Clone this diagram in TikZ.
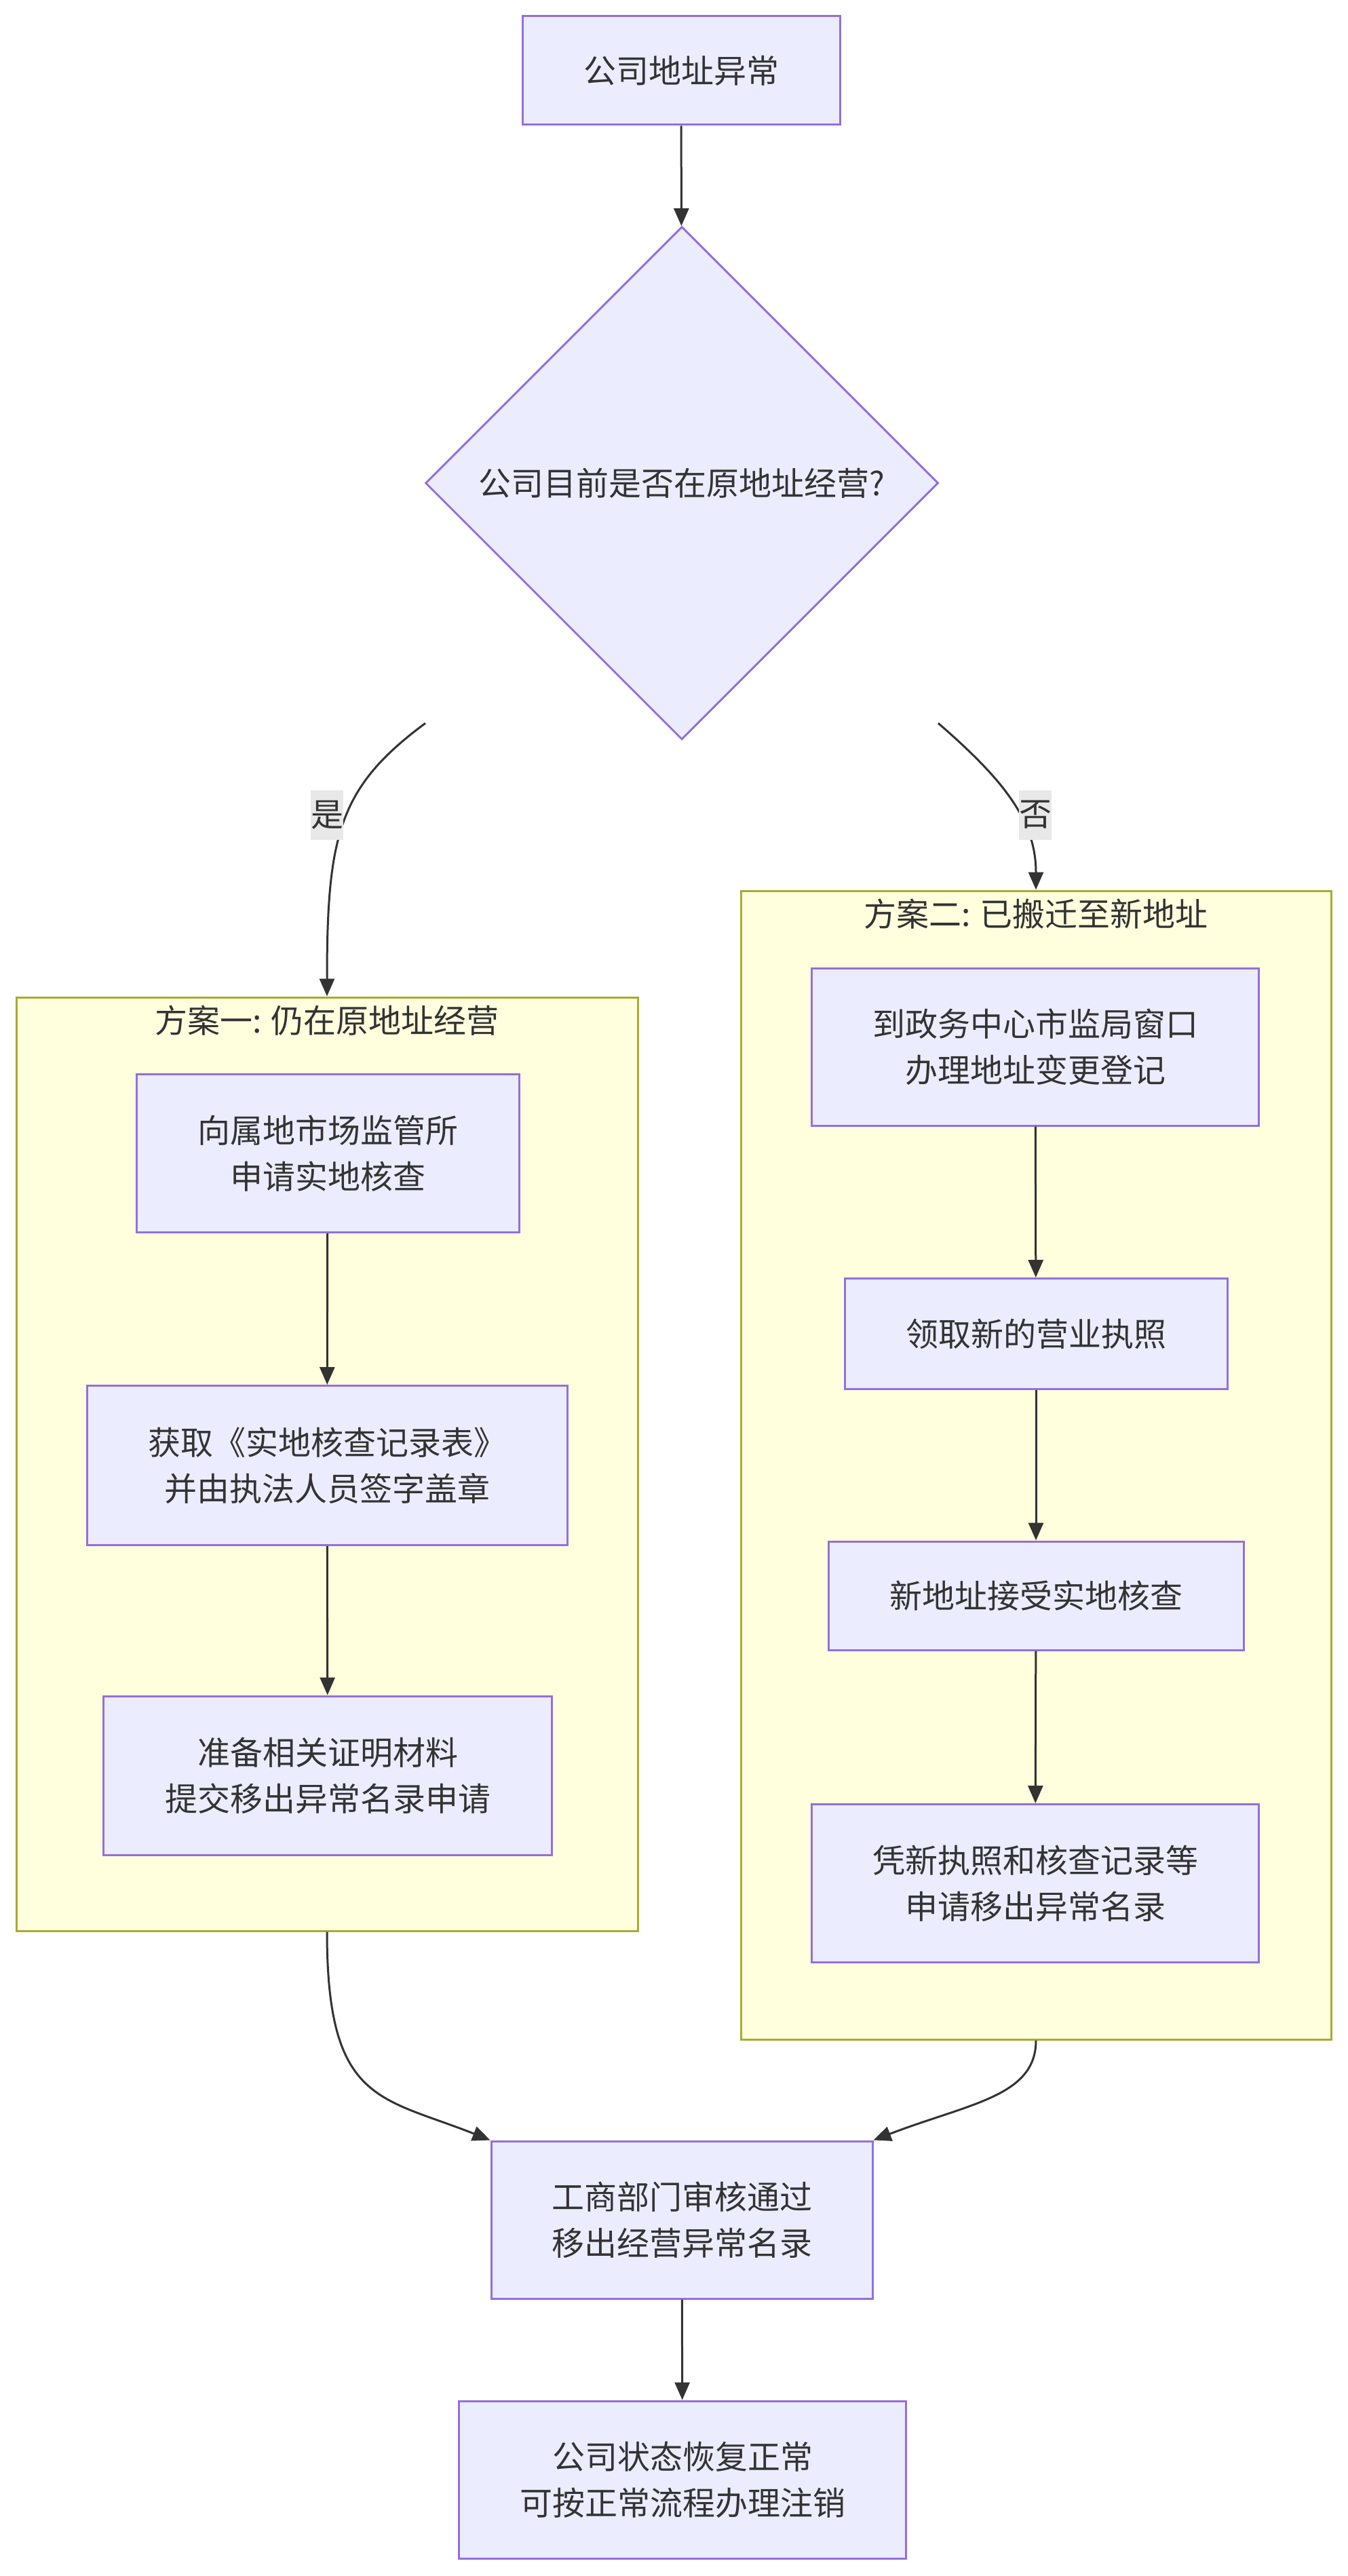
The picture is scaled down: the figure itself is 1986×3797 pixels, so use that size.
\documentclass[tikz,border=0pt]{standalone}
\usepackage{fontspec}
\setmainfont{Noto Sans CJK SC}
\usetikzlibrary{shapes.geometric,arrows.meta}
\definecolor{nodefill}{HTML}{ECECFF}
\definecolor{nodeline}{HTML}{9370DB}
\definecolor{grpfill}{HTML}{FFFFDE}
\definecolor{grpline}{HTML}{AAAA33}
\definecolor{ink}{HTML}{333333}
\definecolor{lblbg}{HTML}{E8E8E8}
\begin{document}
\begin{tikzpicture}[x=1pt,y=-1pt,
 font=\fontsize{48}{68}\selectfont, text=ink,
 box/.style={draw=nodeline, fill=nodefill, line width=3pt, align=center, inner sep=0pt},
 grp/.style={draw=grpline, fill=grpfill, line width=3pt, inner sep=0pt},
 decision/.style={diamond, aspect=1, draw=nodeline, fill=nodefill, line width=3pt, minimum width=756pt, minimum height=756pt, inner sep=0pt},
 arr/.style={draw=ink, line width=3pt, -{Triangle[length=26pt,width=22pt]}},
 lbl/.style={fill=lblbg, inner sep=0pt, minimum width=48pt, minimum height=73pt},
 ttl/.style={inner sep=0pt}]
\path[use as bounding box, fill=white] (0,0) rectangle (1986,3797);

% groups
\node[grp, minimum width=916pt, minimum height=1376pt] (g1) at (482,2158) {};
\node[grp, minimum width=870pt, minimum height=1693pt] (g2) at (1527,2159.5) {};
\node[ttl] (g1t) at (482,1504) {方案一: 仍在原地址经营};
\node[ttl] (g2t) at (1527,1347) {方案二: 已搬迁至新地址};

% nodes
\node[box, minimum width=468pt, minimum height=160pt] (top) at (1004,104) {公司地址异常};
\node[decision] (d) at (1005,712) {公司目前是否在原地址经营?};

\node[box, minimum width=564pt, minimum height=233pt] (a1) at (483,1700) {向属地市场监管所\\申请实地核查};
\node[box, minimum width=708pt, minimum height=235pt] (a2) at (482,2160) {获取《实地核查记录表》\\并由执法人员签字盖章};
\node[box, minimum width=661pt, minimum height=234pt] (a3) at (483,2617) {准备相关证明材料\\提交移出异常名录申请};

\node[box, minimum width=659pt, minimum height=232pt] (b1) at (1526,1543) {到政务中心市监局窗口\\办理地址变更登记};
\node[box, minimum width=564pt, minimum height=163pt] (b2) at (1527,1966) {领取新的营业执照};
\node[box, minimum width=612pt, minimum height=160pt] (b3) at (1527,2352) {新地址接受实地核查};
\node[box, minimum width=659pt, minimum height=233pt] (b4) at (1526,2776) {凭新执照和核查记录等\\申请移出异常名录};

\node[box, minimum width=562pt, minimum height=232pt] (c1) at (1005,3272) {工商部门审核通过\\移出经营异常名录};
\node[box, minimum width=659pt, minimum height=232pt] (c2) at (1006,3655) {公司状态恢复正常\\可按正常流程办理注销};

% connectors
\coordinate (dl) at (627,1066);
\coordinate (dr) at (1383,1066);
\draw[arr] (top) -- (d);
\draw[arr] (dl) .. controls (500,1160) and (482,1230) .. (g1.north);
\draw[arr] (dr) .. controls (1480,1150) and (1527,1210) .. (g2.north);
\draw[arr] (a1) -- (a2);
\draw[arr] (a2) -- (a3);
\draw[arr] (b1) -- (b2);
\draw[arr] (b2) -- (b3);
\draw[arr] (b3) -- (b4);
\draw[arr] (g1.south) .. controls (482,3100) and (560,3090) .. (c1.north west);
\draw[arr] (g2.south) .. controls (1527,3090) and (1430,3100) .. (c1.north east);
\draw[arr] (c1) -- (c2);

\node[lbl] (ly) at (482,1201) {是};
\node[lbl] (ln) at (1526,1201) {否};
\end{tikzpicture}
\end{document}
